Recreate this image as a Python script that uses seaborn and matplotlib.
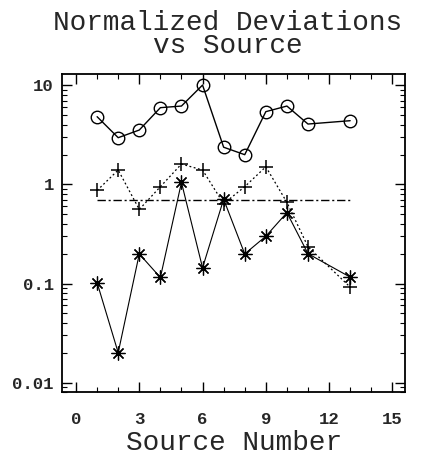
import matplotlib
matplotlib.use("Agg")
import matplotlib.pyplot as plt
import matplotlib.ticker as mticker
import numpy as np
import pandas as pd
import seaborn as sns

# ---- data ----
sources = [1, 2, 3, 4, 5, 6, 7, 8, 9, 10, 11, 13]
circle_vals = [4.84, 2.97, 3.55, 5.97, 6.2, 10.1, 2.38, 2.0, 5.44, 6.2, 4.08, 4.41]
plus_vals = [0.87, 1.40, 0.56, 0.95, 1.61, 1.40, 0.64, 0.95, 1.51, 0.66, 0.235, 0.092]
star_vals = [0.102, 0.020, 0.199, 0.115, 1.05, 0.144, 0.71, 0.199, 0.30, 0.52, 0.20, 0.116]
ref_x = [1, 13]
ref_level = [0.69, 0.69]
x_ticks = [0, 3, 6, 9, 12, 15]
y_ticks = [0.01, 0.1, 1, 10]
y_ticklabels = ["0.01", "0.1", "1", "10"]

sns.set_style("ticks")
plt.rcParams["font.family"] = ["Liberation Mono", "DejaVu Sans"]

fig = plt.figure(figsize=(4.21, 4.58), dpi=100)
ax = fig.add_axes([0.148, 0.1434, 0.814, 0.6950])

df = pd.DataFrame({"src": sources, "circ": circle_vals, "plus": plus_vals, "star": star_vals})

sns.lineplot(data=df, x="src", y="circ", ax=ax, color="black", lw=1.0,
             marker="o", markersize=9, markerfacecolor="none",
             markeredgecolor="black", markeredgewidth=1.0)
sns.lineplot(data=df, x="src", y="plus", ax=ax, color="black", lw=0.9,
             linestyle=(0, (1.5, 2)), marker="+", markersize=10,
             markeredgecolor="black", markeredgewidth=1.1)
sns.lineplot(data=df, x="src", y="star", ax=ax, color="black", lw=0.8,
             marker=(8, 2, 0), markersize=10,
             markeredgecolor="black", markeredgewidth=0.9)
sns.lineplot(x=ref_x, y=ref_level, ax=ax, color="black", lw=1.0,
             linestyle=(0, (6, 2, 1.5, 2)))

ax.set_yscale("log")
ax.set_xlim(-0.65, 15.6)
ax.set_ylim(0.00796, 13.06)

ax.set_xticks(x_ticks)
ax.set_xticklabels([str(t) for t in x_ticks])
ax.xaxis.set_minor_locator(mticker.MultipleLocator(1))
ax.set_yticks(y_ticks)
ax.set_yticklabels(y_ticklabels)
ax.yaxis.set_minor_locator(mticker.LogLocator(base=10, subs=np.arange(2, 10)))
ax.yaxis.set_minor_formatter(mticker.NullFormatter())

ax.tick_params(which="both", direction="in", top=True, right=True, color="black")
ax.tick_params(which="major", length=7, width=1.0)
ax.tick_params(which="minor", length=3.5, width=0.8)
ax.tick_params(axis="x", which="major", pad=14)
ax.tick_params(axis="y", which="major", pad=6)
for lab in ax.get_xticklabels() + ax.get_yticklabels():
    lab.set_fontsize(12.5)
    lab.set_fontweight("bold")

for s in ax.spines.values():
    s.set_visible(True)
    s.set_color("black")
    s.set_linewidth(1.3)

ax.set_xlabel("Source Number", fontsize=20, labelpad=2)
ax.set_ylabel("")
fig.text(0.54, 0.978, "Normalized Deviations\nvs Source", ha="center", va="top",
         fontsize=20, linespacing=0.85)

fig.savefig("out.png", dpi=100)
